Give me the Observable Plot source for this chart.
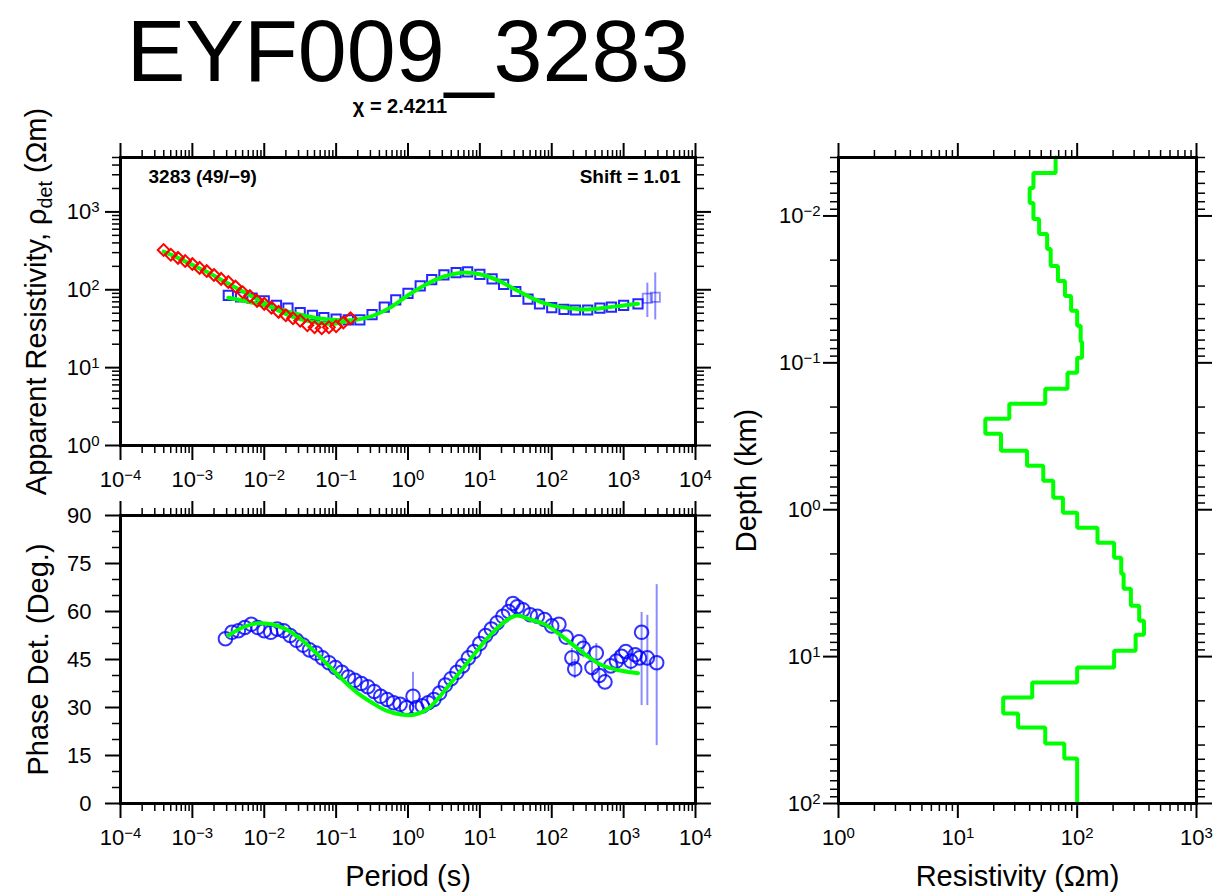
<!DOCTYPE html>
<html><head><meta charset="utf-8">
<script src="https://cdn.jsdelivr.net/npm/d3@7"></script>
<script src="https://cdn.jsdelivr.net/npm/@observablehq/plot@0.6"></script>
<style>
body{margin:0;background:#fff;}
#wrap{position:relative;width:1222px;height:895px;overflow:hidden;background:#fff;}
#wrap svg{position:absolute;top:0;}
</style></head><body><div id="wrap"></div>
<script>
// ---------------- DATA ----------------
const titleText = "EYF009_3283";
const chiText = "χ = 2.4211";
const siteLabel = "3283 (49/−9)";
const shiftLabel = "Shift = 1.01";

// Apparent resistivity (blue squares), log10 period (s) and rho (Ohm m)
const rhoLogPeriod = [-2.5,-2.33,-2.17,-2.0,-1.83,-1.67,-1.5,-1.33,-1.17,-1.0,-0.83,-0.67,-0.5,-0.33,-0.17,0,0.17,0.33,0.5,0.67,0.83,1.0,1.17,1.33,1.5,1.67,1.83,2.0,2.17,2.33,2.5,2.67,2.83,3.0,3.2];
const rhoValue     = [85,81,78,72,63,58,51,47,44,42,41,41,48,60,74,90,112,135,155,166,170,158,138,117,95,76,66,59,56,55,55,58,60,63,66];
// extra long-period points with error bars
const rhoExtraLogPeriod = [3.33,3.44];
const rhoExtraValue     = [78,80];
const rhoExtraLow       = [44,41];
const rhoExtraHigh      = [122,165];
// high-frequency data (red diamonds)
const amtLogPeriod = [-3.4,-3.3,-3.2,-3.1,-3.0,-2.9,-2.8,-2.7,-2.6,-2.5,-2.4,-2.3,-2.2,-2.1,-2.0,-1.9,-1.8,-1.7,-1.6,-1.5,-1.4,-1.3,-1.2,-1.1,-1.0,-0.9,-0.8];
const amtRho       = [324,282,257,234,214,191,174,155,138,126,110,93,83,72,66,59,52,47,43,40,35,33,32,33,34,38,43];
// model responses (green)
const respAmtLogPeriod = [-3.4,-3.2,-3.0,-2.8,-2.6,-2.4,-2.2,-2.0,-1.8,-1.6,-1.4,-1.2,-1.0,-0.85];
const respAmtRho       = [309,257,209,170,135,107,85,68,54,45,40,37,37,40];
const respLogPeriod = [-2.5,-2.25,-2.0,-1.75,-1.5,-1.25,-1.0,-0.75,-0.5,-0.25,0,0.25,0.5,0.75,1.0,1.25,1.5,1.75,2.0,2.25,2.5,2.75,3.0,3.2];
const respRho       = [79,71,63,55,48,43,41,41,46,59,85,117,148,166,158,132,100,76,63,58,56,59,63,66];

// Phase (blue circles)
const phaseLogPeriod = [-2.54,-2.45,-2.36,-2.27,-2.18,-2.09,-2.0,-1.91,-1.82,-1.73,-1.64,-1.55,-1.46,-1.37,-1.28,-1.19,-1.1,-1.01,-0.92,-0.83,-0.74,-0.65,-0.56,-0.47,-0.38,-0.29,-0.2,-0.11,-0.02,0.07,0.12,0.2,0.28,0.36,0.44,0.52,0.6,0.68,0.76,0.84,0.92,1.0,1.08,1.16,1.24,1.32,1.4,1.46,1.52,1.6,1.7,1.8,1.9,2.0,2.1,2.2,2.28,2.32,2.38,2.44,2.56,2.62,2.66,2.74,2.82,2.9,2.97,3.03,3.1,3.16,3.22,3.25,3.33,3.46];
const phaseValue     = [51.5,53.5,54,55,56,55,54,53.5,54.5,54,52.5,51,49.5,48,47,45.5,44,42.5,41,39.5,38.5,37.5,36.5,35,33.5,32.5,31.5,31,30,33.5,30,30.5,31.5,32.5,34.5,37,39,41,43,45.5,47.5,50,52.5,54.5,56.5,58.5,60,62.5,61.5,60.5,59,58.5,57.5,55.5,56,52,45.5,42,50.5,48.5,42.5,47,40,38,43,44.5,46,47.5,44.5,46.5,45.5,53.5,45.5,44];
// phase error bars (where visible)
const phaseErrLogPeriod = [0.07,2.28,2.32,2.44,2.56,2.62,2.66,2.9,3.1,3.25,3.33,3.46];
const phaseErrLow       = [30,42.5,39,45.5,39.5,44,37,41.5,41.5,30.6,30.6,18.1];
const phaseErrHigh      = [41,48.5,45,51.5,45.5,50,43,47.5,47.5,59.7,58.8,68.4];
// phase model response (green)
const phaseRespLogPeriod = [-2.5,-2.3,-2.1,-1.9,-1.7,-1.5,-1.3,-1.1,-0.9,-0.7,-0.5,-0.3,-0.1,0.1,0.3,0.5,0.7,0.9,1.1,1.3,1.5,1.7,1.9,2.1,2.3,2.5,2.7,2.9,3.1,3.2];
const phaseResp          = [52.5,55,56.3,56,54.5,51.5,47.5,43,38.5,34.5,31.5,29,27.8,27.8,30,35,40.5,46,51.5,56,58.7,57.5,56,53,49.5,46,43.2,41.8,41,40.7];

// 1-D resistivity model: layer top depth (km) and resistivity (Ohm m)
const layerTopKm = [0.004,0.0051,0.00645,0.00816,0.0105,0.01326,0.01677,0.02188,0.02768,0.03501,0.04428,0.05601,0.07196,0.09247,0.1169,0.1502,0.1901,0.2404,0.3041,0.3969,0.502,0.6349,0.8287,1.048,1.326,1.677,2.121,2.725,3.446,4.499,5.69,7.085,9.104,11.88,15.03,19.01,24.43,30.41,39.07,49.41];
const layerRes   = [66,43,40,43,48,56,60,69,79,89,100,107,110,100,83,54,27,17,23,38,52,63,76,100,148,204,234,245,282,331,363,309,204,100,42,24,32,54,78,100];
const modelBottomKm = 100;

// tick values
const periodTicks = [1e-4,1e-3,1e-2,1e-1,1,1e1,1e2,1e3,1e4];
const rhoTicks = [1,10,100,1000];
const phaseTicks = [0,15,30,45,60,75,90];
const phaseMinorTicks = [5,10,20,25,35,40,50,55,65,70,80,85];
const resTicks = [1,10,100,1000];
const depthTicks = [0.01,0.1,1,10,100];

// axis titles
const rhoTitle = "Apparent Resistivity, ρdet (Ωm)";
const phaseTitle = "Phase Det. (Deg.)";
const periodTitle = "Period (s)";
const depthTitle = "Depth (km)";
const resTitle = "Resistivity (Ωm)";

// ---------------- BUILD ----------------
const FONT = '"Liberation Sans", Arial, Helvetica, sans-serif';
const BLUE = "#0000ff", RED = "#ff0000", GREEN = "#00ff00";
const pairs = (xs, ys) => xs.map((lx, i) => ({T: Math.pow(10, lx), v: ys[i]}));
const rhoData = pairs(rhoLogPeriod, rhoValue);
const rhoExtra = rhoExtraLogPeriod.map((lx, i) => ({T: Math.pow(10, lx), v: rhoExtraValue[i], lo: rhoExtraLow[i], hi: rhoExtraHigh[i]}));
const amtData = pairs(amtLogPeriod, amtRho);
const respAmt = pairs(respAmtLogPeriod, respAmtRho);
const resp = pairs(respLogPeriod, respRho);
const phaseData = pairs(phaseLogPeriod, phaseValue);
const phaseErr = phaseErrLogPeriod.map((lx, i) => ({T: Math.pow(10, lx), lo: phaseErrLow[i], hi: phaseErrHigh[i]}));
const phaseModel = pairs(phaseRespLogPeriod, phaseResp);
const modelPath = [];
layerTopKm.forEach((top, i) => {
  const bot = i + 1 < layerTopKm.length ? layerTopKm[i + 1] : modelBottomKm;
  modelPath.push({r: layerRes[i], d: top}, {r: layerRes[i], d: bot});
});

function logMinor(lo, hi) {
  const out = [];
  for (let e = Math.floor(Math.log10(lo)) - 1; e <= Math.ceil(Math.log10(hi)); e++)
    for (let m = 2; m <= 9; m++) {
      const v = m * Math.pow(10, e);
      if (v >= lo * 0.9999 && v <= hi * 1.0001) out.push(v);
    }
  return out;
}
const pow10 = d => "10^" + String(Math.round(Math.log10(d))).replace("-", "−");
const blank = () => "";

function frameAxes(xMajor, xMinor, xFmt, yMajor, yMinor, yFmt, yPad) {
  const maj = {tickSize: 15, strokeWidth: 2, label: null};
  const min = {tickSize: 8, strokeWidth: 1.5, label: null, tickFormat: blank};
  return [
    Plot.axisX({...maj, anchor: "bottom", ticks: xMajor, tickPadding: 11, tickFormat: xFmt, fontSize: 22}),
    Plot.axisX({...min, anchor: "bottom", ticks: xMinor}),
    Plot.axisX({...maj, anchor: "top", ticks: xMajor, tickFormat: blank}),
    Plot.axisX({...min, anchor: "top", ticks: xMinor}),
    Plot.axisY({...maj, anchor: "left", ticks: yMajor, tickPadding: yPad, tickFormat: yFmt, fontSize: 22}),
    Plot.axisY({...min, anchor: "left", ticks: yMinor}),
    Plot.axisY({...maj, anchor: "right", ticks: yMajor, tickFormat: blank}),
    Plot.axisY({...min, anchor: "right", ticks: yMinor})
  ];
}
const style = {background: "transparent", fontFamily: FONT, fontSize: "22px", overflow: "visible", color: "black"};
const txt = d => d;

const plotA = Plot.plot({
  width: 720, height: 510, marginLeft: 120, marginRight: 25, marginTop: 157, marginBottom: 65,
  style,
  x: {type: "log", domain: [1e-4, 1e4]},
  y: {type: "log", domain: [1, 5000]},
  marks: [
    ...frameAxes(periodTicks, logMinor(1e-4, 1e4), pow10, rhoTicks, logMinor(1, 5000), pow10, 6),
    Plot.ruleX(rhoExtra, {x: "T", y1: "lo", y2: "hi", stroke: BLUE, strokeOpacity: 0.45, strokeWidth: 2}),
    Plot.dot(rhoData, {x: "T", y: "v", symbol: "square", r: 5.2, stroke: BLUE, strokeWidth: 2, strokeOpacity: 0.85}),
    Plot.dot(rhoExtra, {x: "T", y: "v", symbol: "square", r: 5.2, stroke: BLUE, strokeWidth: 1.8, strokeOpacity: 0.45}),
    Plot.line(resp, {x: "T", y: "v", stroke: GREEN, strokeWidth: 4, curve: "catmull-rom"}),
    Plot.line(respAmt, {x: "T", y: "v", stroke: GREEN, strokeWidth: 4, curve: "catmull-rom"}),
    Plot.dot(amtData, {x: "T", y: "v", symbol: "diamond2", r: 5.3, stroke: RED, strokeWidth: 2}),
    Plot.frame({stroke: "black", strokeWidth: 3}),
    Plot.text([siteLabel], {text: txt, frameAnchor: "top-left", dx: 28, dy: 25, lineAnchor: "bottom", textAnchor: "start", fontWeight: "bold", fontSize: 19}),
    Plot.text([shiftLabel], {text: txt, frameAnchor: "top-right", dx: -15, dy: 25, lineAnchor: "bottom", textAnchor: "end", fontWeight: "bold", fontSize: 19}),
    Plot.text([titleText], {text: txt, frameAnchor: "top", dy: -77, lineAnchor: "bottom", textAnchor: "middle", fontSize: 88}),
    Plot.text([chiText], {text: txt, frameAnchor: "top", dx: -8, dy: -45, lineAnchor: "bottom", textAnchor: "middle", fontWeight: "bold", fontSize: 20}),
    Plot.text([rhoTitle], {text: txt, frameAnchor: "left", dx: -75, rotate: -90, lineAnchor: "bottom", textAnchor: "middle", fontSize: 29})
  ]
});

const plotB = Plot.plot({
  width: 720, height: 895, marginLeft: 120, marginRight: 25, marginTop: 515, marginBottom: 92,
  style,
  x: {type: "log", domain: [1e-4, 1e4]},
  y: {domain: [0, 90]},
  marks: [
    ...frameAxes(periodTicks, logMinor(1e-4, 1e4), pow10, phaseTicks, phaseMinorTicks, d => String(d), 14),
    Plot.ruleX(phaseErr, {x: "T", y1: "lo", y2: "hi", stroke: BLUE, strokeOpacity: 0.45, strokeWidth: 2}),
    Plot.dot(phaseData, {x: "T", y: "v", r: 6.8, stroke: BLUE, strokeWidth: 2, strokeOpacity: 0.8}),
    Plot.line(phaseModel, {x: "T", y: "v", stroke: GREEN, strokeWidth: 4, curve: "catmull-rom"}),
    Plot.frame({stroke: "black", strokeWidth: 3}),
    Plot.text([periodTitle], {text: txt, frameAnchor: "bottom", dy: 82, lineAnchor: "bottom", textAnchor: "middle", fontSize: 29}),
    Plot.text([phaseTitle], {text: txt, frameAnchor: "left", dx: -73, rotate: -90, lineAnchor: "bottom", textAnchor: "middle", fontSize: 29})
  ]
});

const plotC = Plot.plot({
  width: 502, height: 895, marginLeft: 118, marginRight: 26, marginTop: 157, marginBottom: 92,
  style,
  x: {type: "log", domain: [1, 1000]},
  y: {type: "log", domain: [0.004, 100], reverse: true},
  marks: [
    ...frameAxes(resTicks, logMinor(1, 1000), pow10, depthTicks, logMinor(0.004, 100), pow10, 3),
    Plot.line(modelPath, {x: "r", y: "d", stroke: GREEN, strokeWidth: 4, strokeLinejoin: "miter"}),
    Plot.frame({stroke: "black", strokeWidth: 3}),
    Plot.text([resTitle], {text: txt, frameAnchor: "bottom", dy: 82, lineAnchor: "bottom", textAnchor: "middle", fontSize: 29}),
    Plot.text([depthTitle], {text: txt, frameAnchor: "left", dx: -83, rotate: -90, lineAnchor: "bottom", textAnchor: "middle", fontSize: 29})
  ]
});

function postProcess(svg) {
  d3.select(svg).selectAll("text").each(function() {
    const t = this.textContent;
    const m = /^10\^(.+)$/.exec(t);
    const s = d3.select(this);
    if (m) {
      s.text("10");
      s.append("tspan").attr("dy", "-0.45em").attr("font-size", "0.68em").text(m[1]);
    } else if (t.includes("ρdet")) {
      const [a, b] = t.split("ρdet");
      s.text(a + "ρ");
      s.append("tspan").attr("dy", 6).attr("font-size", "0.68em").text("det");
      s.append("tspan").attr("dy", -6).text(b);
    }
  });
}
const wrap = document.getElementById("wrap");
[[plotA, 0], [plotB, 0], [plotC, 720]].forEach(([p, left]) => {
  postProcess(p);
  p.style.left = left + "px";
  wrap.appendChild(p);
});
</script></body></html>
